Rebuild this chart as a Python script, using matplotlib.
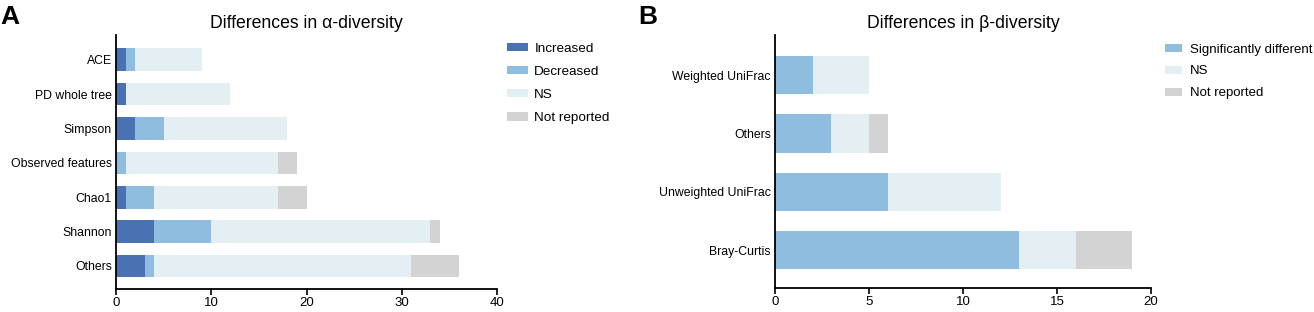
import matplotlib
matplotlib.use('Agg')
import matplotlib.pyplot as plt
import numpy as np

plt.rcParams['font.family'] = ['Liberation Sans', 'DejaVu Sans']

# Panel A: alpha diversity
alpha_metrics = ['ACE', 'PD whole tree', 'Simpson', 'Observed features',
                 'Chao1', 'Shannon', 'Others']
alpha_increased = [1, 1, 2, 0, 1, 4, 3]
alpha_decreased = [1, 0, 3, 1, 3, 6, 1]
alpha_ns = [7, 11, 13, 16, 13, 23, 27]
alpha_not_reported = [0, 0, 0, 2, 3, 1, 5]

# Panel B: beta diversity
beta_metrics = ['Weighted UniFrac', 'Others', 'Unweighted UniFrac', 'Bray-Curtis']
beta_significant = [2, 3, 6, 13]
beta_ns = [3, 2, 6, 3]
beta_not_reported = [0, 1, 0, 3]

c_inc = '#4a72b2'
c_dec = '#8fbde0'
c_ns = '#e3eff3'
c_nr = '#d3d3d3'

fig = plt.figure(figsize=(13.14, 3.12), dpi=100)
axA = fig.add_axes([116/1314, 23/312, 381/1314, 254/312])
axB = fig.add_axes([775/1314, 24/312, 376/1314, 253/312])


def style_axis(ax, ysize):
    for s in ['top', 'right']:
        ax.spines[s].set_visible(False)
    for s in ['left', 'bottom']:
        ax.spines[s].set_linewidth(1.3)
    ax.tick_params(axis='y', length=0, labelsize=ysize, pad=3)
    ax.tick_params(axis='x', length=4, width=1.2, labelsize=9.5, pad=2)


# panel A bars, first category at top
yA = np.arange(len(alpha_metrics))[::-1]
left = np.zeros(len(alpha_metrics))
hA = []
for vals, col, lab in [(alpha_increased, c_inc, 'Increased'),
                       (alpha_decreased, c_dec, 'Decreased'),
                       (alpha_ns, c_ns, 'NS'),
                       (alpha_not_reported, c_nr, 'Not reported')]:
    b = axA.barh(yA, vals, left=left, height=0.66, color=col, label=lab)
    hA.append(b)
    left = left + np.array(vals)
axA.set_yticks(yA)
axA.set_yticklabels(alpha_metrics)
axA.set_xlim(0, 40)
axA.set_xticks([0, 10, 20, 30, 40])
axA.set_ylim(-0.67, 6.72)
style_axis(axA, 8.8)
axA.set_title('Differences in α-diversity', fontsize=12.7, pad=5)

# panel B bars
yB = np.arange(len(beta_metrics))[::-1]
left = np.zeros(len(beta_metrics))
hB = []
for vals, col, lab in [(beta_significant, c_dec, 'Significantly different'),
                       (beta_ns, c_ns, 'NS'),
                       (beta_not_reported, c_nr, 'Not reported')]:
    b = axB.barh(yB, vals, left=left, height=0.66, color=col, label=lab)
    hB.append(b)
    left = left + np.array(vals)
axB.set_yticks(yB)
axB.set_yticklabels(beta_metrics)
axB.set_xlim(0, 20)
axB.set_xticks([0, 5, 10, 15, 20])
axB.set_ylim(-0.65, 3.69)
style_axis(axB, 8.8)
axB.set_title('Differences in β-diversity', fontsize=12.7, pad=5)

fig.legend(handles=hA, loc='upper left', bbox_to_anchor=(500/1314, 1 - 36/312),
           frameon=False, fontsize=9.7, handlelength=1.55, handleheight=0.6,
           labelspacing=0.82, borderpad=0, handletextpad=0.5)
fig.legend(handles=hB, loc='upper left', bbox_to_anchor=(1158/1314, 1 - 37/312),
           frameon=False, fontsize=9.5, handlelength=1.3, handleheight=0.6,
           labelspacing=0.75, borderpad=0, handletextpad=0.6)

fig.text(0/1314, 1 - 5/312, 'A', fontsize=19, fontweight='bold', va='top', ha='left')
fig.text(638/1314, 1 - 5/312, 'B', fontsize=19, fontweight='bold', va='top', ha='left')

fig.savefig('out.png', dpi=100)
